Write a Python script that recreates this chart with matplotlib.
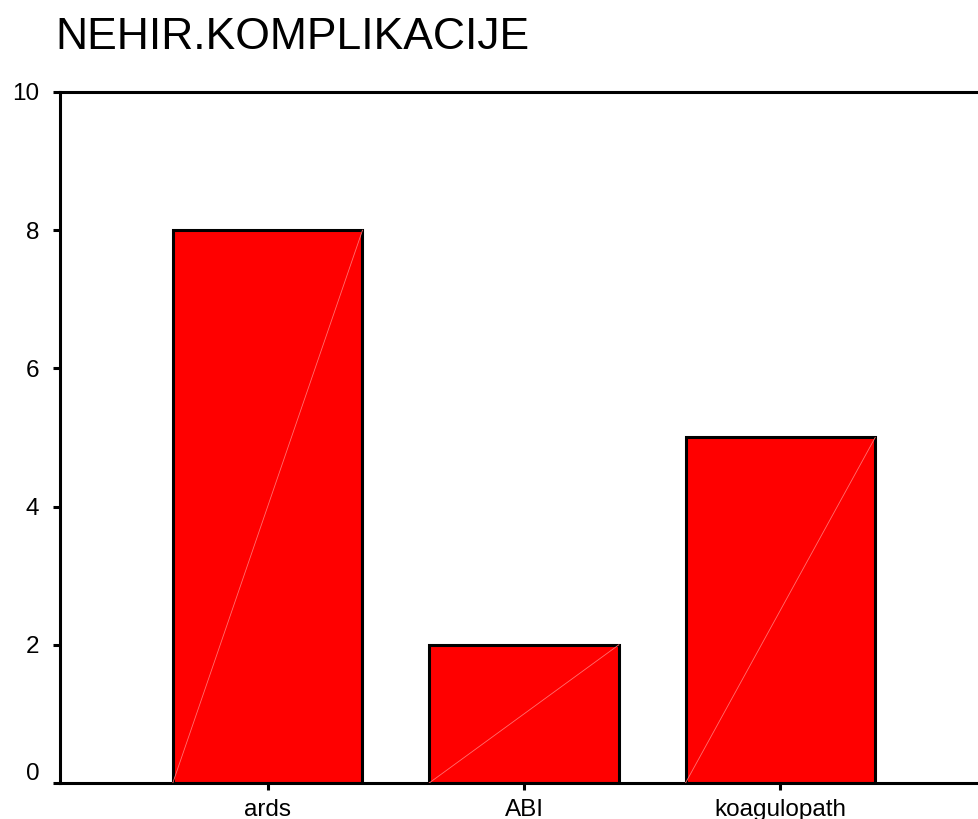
import matplotlib
matplotlib.use('Agg')
import matplotlib.pyplot as plt
import matplotlib.transforms as mtransforms

# data
categories = ['ards', 'ABI', 'koagulopath']
counts = [8, 2, 5]
y_ticks = [0, 2, 4, 6, 8, 10]
title = 'NEHIR.KOMPLIKACIJE'

plt.rcParams['font.family'] = ['Liberation Sans', 'DejaVu Sans']

W, H = 979, 819
fig = plt.figure(figsize=(W / 100, H / 100), dpi=100)
ax = fig.add_axes([60 / W, 1 - 783 / H, 928 / W, (783 - 92) / H])

x = list(range(len(categories)))
bar_w = 0.74
ax.bar(x, counts, width=bar_w, color='#ff0000', edgecolor='black', linewidth=2.2, zorder=2)

# faint diagonal seen inside each bar
for xi, v in zip(x, counts):
    ax.plot([xi - bar_w / 2, xi + bar_w / 2], [0, v], color='#ff7070', lw=0.6, zorder=3)

ax.set_xlim(-0.81, 2.81)
ax.set_ylim(0, 10)
ax.set_xticks(x)
ax.set_xticklabels(categories, fontsize=17.5)
ax.set_yticks(y_ticks)
ax.set_yticklabels([str(t) for t in y_ticks], fontsize=17.5)
ax.tick_params(direction='out', length=5, width=2.2, pad=4)
ax.tick_params(axis='y', pad=10)
ax.tick_params(axis='x', pad=6.5)

for side in ['left', 'top', 'bottom', 'right']:
    ax.spines[side].set_linewidth(2.2)

# lift the 0 label off the x axis like the original
lbl0 = ax.get_yticklabels()[0]
lbl0.set_transform(lbl0.get_transform() + mtransforms.ScaledTranslation(0, 12 / 100, fig.dpi_scale_trans))

fig.text(55 / W, 1 - 49 / H, title, fontsize=32, va='baseline', ha='left')

fig.savefig('out.png', dpi=100)
